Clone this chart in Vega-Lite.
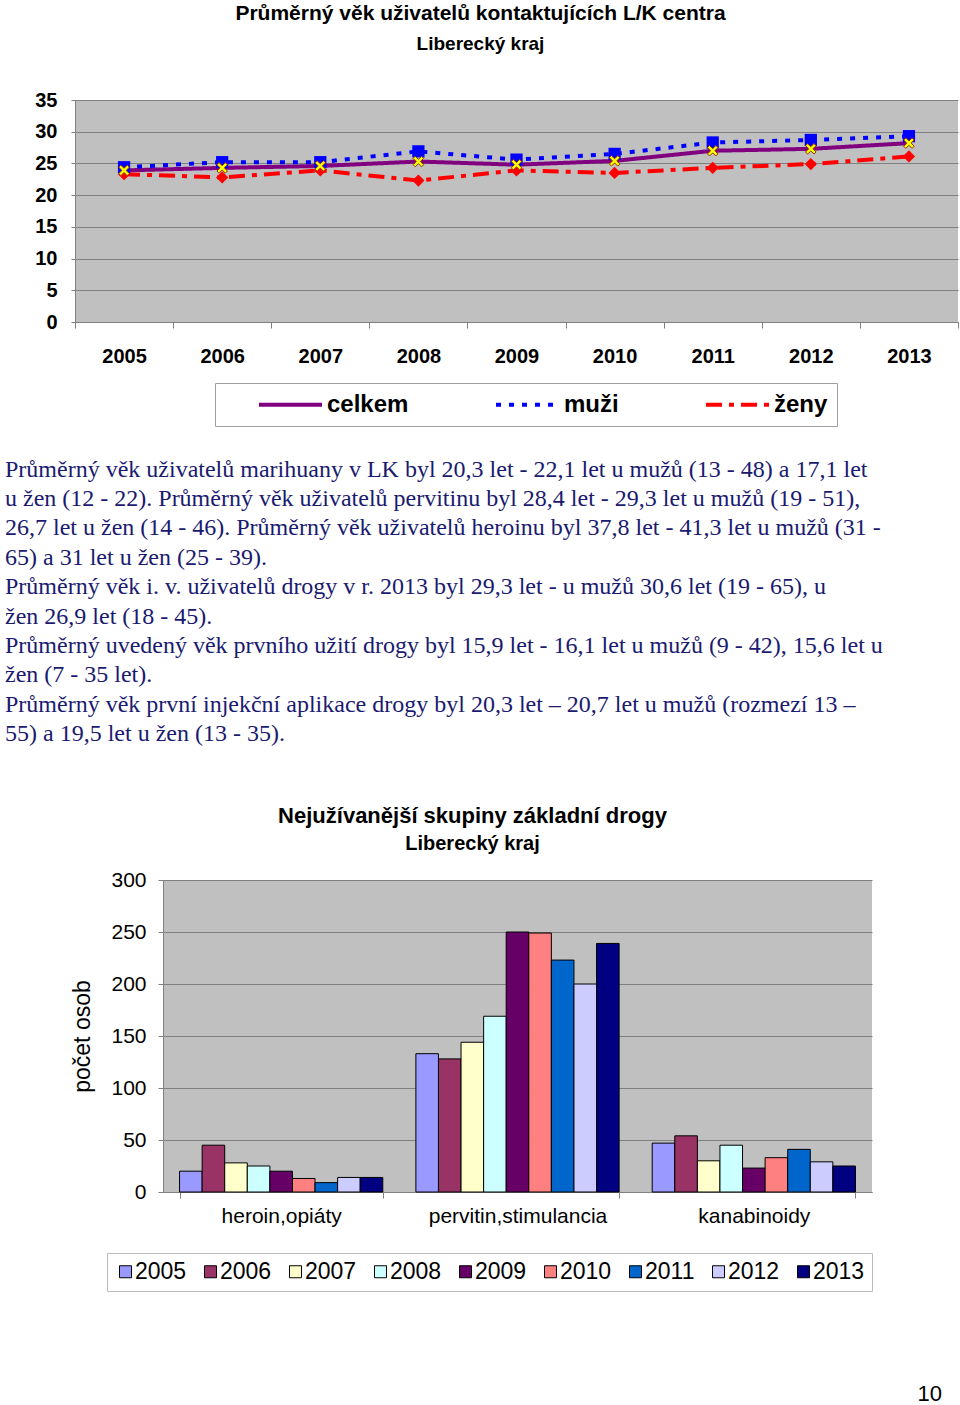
{
  "$schema": "https://vega.github.io/schema/vega-lite/v6.json",
  "background": "white",
  "padding": {"left": 5, "top": 3, "right": 0, "bottom": 0},
  "config": {"view": {"stroke": null}, "font": "Liberation Sans", "axis": {"labelColor": "black", "titleColor": "black"}, "legend": {"labelColor": "black"}, "title": {"color": "black", "subtitleColor": "black"}},
  "spacing": 30,
  "resolve": {"scale": {"color": "independent", "strokeDash": "independent"}, "legend": {"color": "independent", "strokeDash": "independent"}},
  "datasets": {
    "ages": [
      {"year": "2005", "series": "celkem", "value": 23.9},
      {"year": "2006", "series": "celkem", "value": 24.3},
      {"year": "2007", "series": "celkem", "value": 24.6},
      {"year": "2008", "series": "celkem", "value": 25.3},
      {"year": "2009", "series": "celkem", "value": 24.8},
      {"year": "2010", "series": "celkem", "value": 25.4},
      {"year": "2011", "series": "celkem", "value": 27.0},
      {"year": "2012", "series": "celkem", "value": 27.3},
      {"year": "2013", "series": "celkem", "value": 28.2},
      {"year": "2005", "series": "muži", "value": 24.4},
      {"year": "2006", "series": "muži", "value": 25.2},
      {"year": "2007", "series": "muži", "value": 25.2},
      {"year": "2008", "series": "muži", "value": 26.9},
      {"year": "2009", "series": "muži", "value": 25.6},
      {"year": "2010", "series": "muži", "value": 26.5},
      {"year": "2011", "series": "muži", "value": 28.3},
      {"year": "2012", "series": "muži", "value": 28.7},
      {"year": "2013", "series": "muži", "value": 29.3},
      {"year": "2005", "series": "ženy", "value": 23.3},
      {"year": "2006", "series": "ženy", "value": 22.8},
      {"year": "2007", "series": "ženy", "value": 23.9},
      {"year": "2008", "series": "ženy", "value": 22.3},
      {"year": "2009", "series": "ženy", "value": 23.9},
      {"year": "2010", "series": "ženy", "value": 23.5},
      {"year": "2011", "series": "ženy", "value": 24.3},
      {"year": "2012", "series": "ženy", "value": 24.9},
      {"year": "2013", "series": "ženy", "value": 26.1}
    ],
    "text": [
      {"line": 1, "text": "Průměrný  věk uživatelů marihuany v LK byl  20,3 let - 22,1 let u mužů (13 - 48) a 17,1 let"},
      {"line": 2, "text": "u žen  (12 - 22). Průměrný věk uživatelů pervitinu byl 28,4 let - 29,3 let u mužů (19 - 51),"},
      {"line": 3, "text": "26,7 let u žen (14 - 46). Průměrný věk uživatelů heroinu byl  37,8 let - 41,3 let u mužů (31 -"},
      {"line": 4, "text": "65)  a  31 let u žen (25 - 39)."},
      {"line": 5, "text": "Průměrný  věk  i. v. uživatelů drogy  v  r. 2013  byl 29,3  let  - u  mužů 30,6 let  (19 - 65), u"},
      {"line": 6, "text": "žen 26,9 let  (18 - 45)."},
      {"line": 7, "text": "Průměrný uvedený věk prvního užití drogy byl 15,9 let  - 16,1 let u mužů (9 - 42), 15,6 let u"},
      {"line": 8, "text": "žen (7 - 35 let)."},
      {"line": 9, "text": "Průměrný věk první injekční aplikace drogy byl 20,3 let – 20,7 let u mužů (rozmezí 13 –"},
      {"line": 10, "text": "55)  a  19,5 let u žen (13 - 35)."}
    ],
    "drugs": [
      {"group": "heroin,opiáty", "year": "2005", "count": 20},
      {"group": "heroin,opiáty", "year": "2006", "count": 45},
      {"group": "heroin,opiáty", "year": "2007", "count": 28},
      {"group": "heroin,opiáty", "year": "2008", "count": 25},
      {"group": "heroin,opiáty", "year": "2009", "count": 20},
      {"group": "heroin,opiáty", "year": "2010", "count": 13},
      {"group": "heroin,opiáty", "year": "2011", "count": 9},
      {"group": "heroin,opiáty", "year": "2012", "count": 14},
      {"group": "heroin,opiáty", "year": "2013", "count": 14},
      {"group": "pervitin,stimulancia", "year": "2005", "count": 133},
      {"group": "pervitin,stimulancia", "year": "2006", "count": 128},
      {"group": "pervitin,stimulancia", "year": "2007", "count": 144},
      {"group": "pervitin,stimulancia", "year": "2008", "count": 169},
      {"group": "pervitin,stimulancia", "year": "2009", "count": 250},
      {"group": "pervitin,stimulancia", "year": "2010", "count": 249},
      {"group": "pervitin,stimulancia", "year": "2011", "count": 223},
      {"group": "pervitin,stimulancia", "year": "2012", "count": 200},
      {"group": "pervitin,stimulancia", "year": "2013", "count": 239},
      {"group": "kanabinoidy", "year": "2005", "count": 47},
      {"group": "kanabinoidy", "year": "2006", "count": 54},
      {"group": "kanabinoidy", "year": "2007", "count": 30},
      {"group": "kanabinoidy", "year": "2008", "count": 45},
      {"group": "kanabinoidy", "year": "2009", "count": 23},
      {"group": "kanabinoidy", "year": "2010", "count": 33},
      {"group": "kanabinoidy", "year": "2011", "count": 41},
      {"group": "kanabinoidy", "year": "2012", "count": 29},
      {"group": "kanabinoidy", "year": "2013", "count": 25}
    ],
    "page": [{"page": "10"}]
  },
  "vconcat": [
    {
      "width": 883,
      "height": 222,
      "view": {"fill": "#C0C0C0"},
      "title": {"text": "Průměrný věk uživatelů kontaktujících L/K centra", "subtitle": "Liberecký kraj", "fontSize": 21, "fontWeight": "bold", "subtitleFontSize": 19, "subtitleFontWeight": "bold", "anchor": "middle", "frame": "group", "dx": -36, "offset": 36, "subtitlePadding": 11},
      "data": {"name": "ages"},
      "encoding": {
        "x": {"field": "year", "type": "ordinal", "scale": {"type": "band", "paddingInner": 0, "paddingOuter": 0}, "axis": {"title": null, "labelAngle": 0, "labelFontSize": 20, "labelFontWeight": "bold", "labelPadding": 18, "tickBand": "extent", "tickSize": 6, "tickColor": "#808080", "domainColor": "#808080", "grid": false}},
        "y": {"field": "value", "type": "quantitative", "scale": {"domain": [0, 35], "nice": false}, "axis": {"values": [0, 5, 10, 15, 20, 25, 30, 35], "title": null, "labelFontSize": 20, "labelFontWeight": "bold", "labelPadding": 14, "tickSize": 4, "tickColor": "#808080", "domainColor": "#808080", "gridColor": "#808080", "gridOpacity": 1}}
      },
      "layer": [
        {
          "mark": {"type": "line", "strokeWidth": 4},
          "encoding": {
            "color": {"field": "series", "type": "nominal", "scale": {"domain": ["celkem", "muži", "ženy"], "range": ["#800080", "#0000FF", "#FF0000"]}, "legend": {"orient": "none", "legendX": 140, "legendY": 283, "direction": "horizontal", "title": null, "symbolType": "M-3,0L3,0", "symbolSize": 441, "symbolStrokeWidth": 4, "symbolOffset": 54, "labelOffset": 24, "labelFontSize": 24, "labelFontWeight": "bold", "columnPadding": 52, "padding": 9, "fillColor": "white", "strokeColor": "#A0A0A0"}},
            "strokeDash": {"field": "series", "type": "nominal", "scale": {"domain": ["celkem", "muži", "ženy"], "range": [[1, 0], [5, 8], [16, 7, 5, 7]]}, "legend": {"orient": "none", "legendX": 140, "legendY": 283, "direction": "horizontal", "title": null, "symbolType": "M-3,0L3,0", "symbolSize": 441, "symbolStrokeWidth": 4, "symbolOffset": 54, "labelOffset": 24, "labelFontSize": 24, "labelFontWeight": "bold", "columnPadding": 52, "padding": 9, "fillColor": "white", "strokeColor": "#A0A0A0"}}
          }
        },
        {
          "transform": [{"filter": "datum.series === 'ženy'"}],
          "mark": {"type": "point", "shape": "diamond", "filled": true, "fill": "#FF0000", "size": 150, "opacity": 1}
        },
        {
          "transform": [{"filter": "datum.series === 'muži'"}],
          "mark": {"type": "point", "shape": "square", "filled": true, "fill": "#0000FF", "size": 150, "opacity": 1}
        },
        {
          "transform": [{"filter": "datum.series === 'celkem'"}],
          "mark": {"type": "point", "shape": "M-1,-0.6L-0.6,-1L0,-0.4L0.6,-1L1,-0.6L0.4,0L1,0.6L0.6,1L0,0.4L-0.6,1L-1,0.6L-0.4,0Z", "filled": true, "fill": "#FFFF00", "stroke": "#993300", "strokeWidth": 1, "size": 110, "opacity": 1}
        }
      ]
    },
    {
      "width": 883,
      "height": 317,
      "data": {"name": "text"},
      "mark": {"type": "text", "align": "left", "baseline": "middle", "dx": -70, "font": "Liberation Serif", "fontSize": 24, "color": "#1a1a70"},
      "encoding": {
        "x": {"datum": 0, "type": "quantitative", "scale": {"domain": [0, 1]}, "axis": null},
        "y": {"field": "line", "type": "quantitative", "scale": {"domain": [0.6, 11.398], "reverse": true, "nice": false, "zero": false}, "axis": null},
        "text": {"field": "text"}
      }
    },
    {
      "spacing": -5,
      "resolve": {"scale": {"color": "independent"}, "legend": {"color": "independent"}},
      "hconcat": [
        {
          "width": 1,
          "height": 1,
          "data": {"name": "page"},
          "mark": {"type": "text", "text": ""},
          "encoding": {}
        },
        {
          "width": 709,
          "height": 312,
          "view": {"fill": "#C0C0C0"},
          "title": {"text": "Nejužívanější skupiny základní drogy", "subtitle": "Liberecký kraj", "fontSize": 22, "fontWeight": "bold", "subtitleFontSize": 20, "subtitleFontWeight": "bold", "anchor": "middle", "frame": "group", "dx": -45, "offset": 14, "subtitlePadding": 6},
          "data": {"name": "drugs"},
          "mark": {"type": "bar", "stroke": "black", "strokeWidth": 1},
          "encoding": {
            "x": {"field": "group", "type": "nominal", "sort": ["heroin,opiáty", "pervitin,stimulancia", "kanabinoidy"], "scale": {"paddingInner": 0.14, "paddingOuter": 0.07}, "axis": {"title": null, "labelAngle": 0, "labelFontSize": 21, "labelPadding": 7, "tickBand": "extent", "tickSize": 6, "tickColor": "#808080", "domainColor": "#808080"}},
            "xOffset": {"field": "year", "type": "nominal"},
            "y": {"field": "count", "type": "quantitative", "scale": {"domain": [0, 300], "nice": false}, "axis": {"values": [0, 50, 100, 150, 200, 250, 300], "title": "počet osob", "titleFontSize": 23, "titleFontWeight": "normal", "titlePadding": 16, "labelFontSize": 21, "labelPadding": 12, "tickSize": 5, "tickColor": "#808080", "domainColor": "#808080", "gridColor": "#808080", "gridOpacity": 1}},
            "color": {"field": "year", "type": "nominal", "scale": {"range": ["#9999FF", "#993366", "#FFFFCC", "#CCFFFF", "#660066", "#FF8080", "#0066CC", "#CCCCFF", "#000080"]}, "legend": {"orient": "none", "legendX": -56, "legendY": 373, "direction": "horizontal", "title": null, "symbolType": "square", "symbolSize": 144, "symbolStrokeColor": "black", "symbolStrokeWidth": 1, "labelFontSize": 23, "labelOffset": -2, "columnPadding": 12, "padding": 7, "fillColor": "white", "strokeColor": "#BBBBBB"}}
          }
        }
      ]
    },
    {
      "width": 867,
      "height": 72,
      "data": {"name": "page"},
      "mark": {"type": "text", "align": "right", "baseline": "middle", "fontSize": 22},
      "encoding": {
        "x": {"datum": 1, "type": "quantitative", "scale": {"domain": [0, 1]}, "axis": null},
        "y": {"datum": 0, "type": "quantitative", "scale": {"domain": [0, 1]}, "axis": null},
        "text": {"field": "page"}
      }
    }
  ]
}
